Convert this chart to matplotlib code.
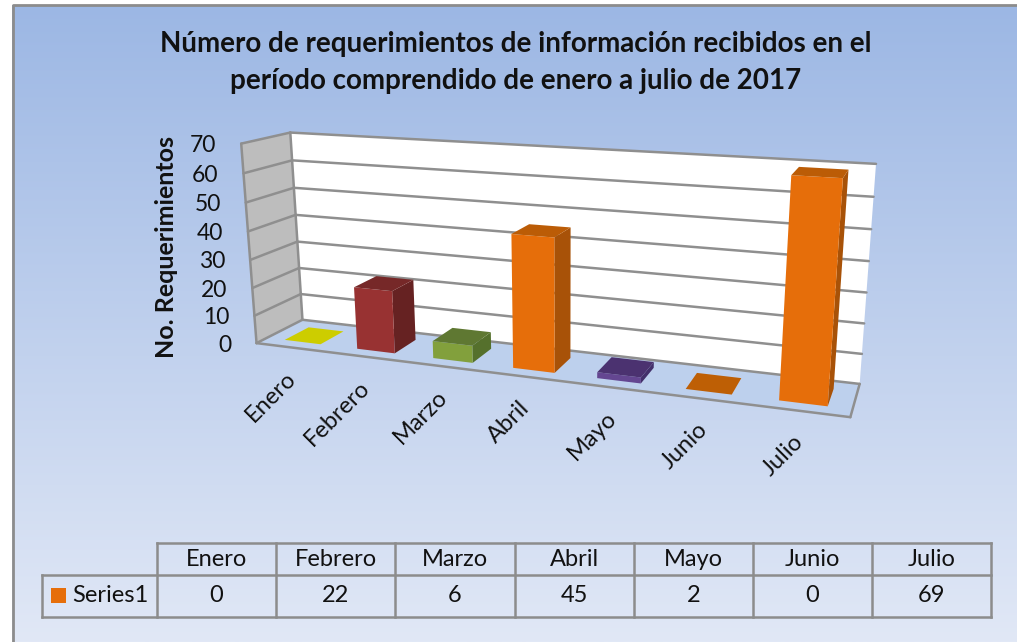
import numpy as np
import matplotlib
matplotlib.use("Agg")
import matplotlib.pyplot as plt
from matplotlib.patches import Polygon, Rectangle

# data
meses = ["Enero", "Febrero", "Marzo", "Abril", "Mayo", "Junio", "Julio"]
valores = [0, 22, 6, 45, 2, 0, 69]
y_ticks = [0, 10, 20, 30, 40, 50, 60, 70]
serie = "Series1"
titulo = "Número de requerimientos de información recibidos en el\nperíodo comprendido de enero a julio de 2017"
y_label = "No. Requerimientos"

# front, top and side colour of each bar
frente = ["#cdcd00", "#983232", "#82a03c", "#e66e0a", "#644691", "#be5f05", "#e66e0a"]
arriba = ["#cdcd00", "#762828", "#5f7832", "#bb5c06", "#4b3270", "#be5f05", "#bb5c06"]
lado = ["#cdcd00", "#662222", "#55702c", "#a85208", "#43306a", "#be5f05", "#a85208"]

plt.rcParams['font.family'] = ['Lato', 'DejaVu Sans']

# the 3d box: (category, depth, value) seen at these pixels of the figure
box_3d = [(0, 0, 0), (7, 0, 0), (0, 1, 0), (7, 1, 0), (0, 1, 70), (7, 1, 70), (0, 0, 70)]
box_px = [(257, 343), (850, 418), (302, 320), (860, 383), (290.5, 133), (876, 164), (241, 143)]


def fit_camera(pts3, pts2):
    # direct linear transform, p34 fixed to 1
    A, b = [], []
    for (x, y, z), (u, v) in zip(pts3, pts2):
        A.append([x, y, z, 1, 0, 0, 0, 0, -u * x, -u * y, -u * z])
        b.append(u)
        A.append([0, 0, 0, 0, x, y, z, 1, -v * x, -v * y, -v * z])
        b.append(v)
    p = np.linalg.lstsq(np.array(A, float), np.array(b, float), rcond=None)[0]
    return np.append(p, 1).reshape(3, 4)


CAM = fit_camera(box_3d, box_px)


def proj(x, y, z):
    h = CAM @ np.array([x, y, z, 1.0])
    return h[0] / h[2], h[1] / h[2]


def quad(ax, pts, color, ec=None, lw=0, z=2):
    ax.add_patch(Polygon([proj(*p) for p in pts], closed=True, fc=color,
                         ec=ec if ec else color, lw=lw, zorder=z))


def edge(ax, a, b, lw=1.8, color="#8f8f8f", z=2):
    pa, pb = proj(*a), proj(*b)
    ax.plot([pa[0], pb[0]], [pa[1], pb[1]], color=color, lw=lw, zorder=z,
            solid_capstyle="round")


fig = plt.figure(figsize=(10.17, 6.42), dpi=100)
ax = fig.add_axes([0, 0, 1, 1])
ax.set_xlim(0, 1017)
ax.set_ylim(642, 0)
ax.axis("off")

# background gradient and frame
grad = np.linspace(0, 1, 256).reshape(-1, 1, 1)
top_c = np.array([156, 183, 228]) / 255
bot_c = np.array([225, 232, 246]) / 255
img = top_c + (bot_c - top_c) * grad
ax.imshow(img, extent=(12, 1017, 642, 5), aspect="auto", zorder=0)
ax.set_xlim(0, 1017)
ax.set_ylim(642, 0)
ax.plot([12.5, 12.5, 1017], [642, 4.5, 4.5], color="#8c8c8c", lw=2, zorder=1)

# walls and floor
quad(ax, [(0, 0, 0), (0, 1, 0), (0, 1, 70), (0, 0, 70)], "#bdbdbd", z=1)
quad(ax, [(0, 1, 0), (7, 1, 0), (7, 1, 70), (0, 1, 70)], "#ffffff", z=1)
quad(ax, [(0, 0, 0), (7, 0, 0), (7, 1, 0), (0, 1, 0)], "#bdd0ed", z=1)

for t in y_ticks:
    edge(ax, (0, 0, t), (0, 1, t))
    edge(ax, (0, 1, t), (7, 1, t))
    px, py = proj(0, 0, t)
    ax.text(px - 25, py + 2, str(t), ha="right", va="center", fontsize=16.5, color="#111111", zorder=5)
edge(ax, (0, 0, 0), (7, 0, 0))
edge(ax, (7, 0, 0), (7, 1, 0))
edge(ax, (0, 0, 0), (0, 0, 70))
edge(ax, (0, 1, 0), (0, 1, 70))

# bars
ancho = 0.5
y0, y1 = 0.22, 0.75
for i, v in enumerate(valores):
    x0 = i + 0.5 - ancho / 2
    x1 = i + 0.5 + ancho / 2
    if v > 0:
        quad(ax, [(x1, y0, 0), (x1, y1, 0), (x1, y1, v), (x1, y0, v)], lado[i], z=3)
        quad(ax, [(x0, y0, 0), (x1, y0, 0), (x1, y0, v), (x0, y0, v)], frente[i], z=3)
    quad(ax, [(x0, y0, v), (x1, y0, v), (x1, y1, v), (x0, y1, v)], arriba[i], z=3)

    px, py = proj(i + 0.5, 0, 0)
    ax.text(px - 7.5, py + 20, meses[i], rotation=45, rotation_mode="anchor",
            ha="right", va="top", fontsize=17, color="#111111", zorder=5)

# titles
ax.text(516, 62.5, titulo, ha="center", va="center", fontsize=20, fontweight="bold",
        color="#111111", linespacing=1.57)
ax.text(167, 247, y_label, rotation=90, ha="center", va="center", fontsize=18,
        fontweight="bold", color="#111111")

# data table
tab_x = 157
col = 119.2
top, mid, bot = 543, 575, 617
leg_x = 42
for i in range(len(meses) + 1):
    xx = tab_x + i * col
    ax.plot([xx, xx], [top, bot], color="#8c8c8c", lw=1.8, zorder=4)
ax.plot([tab_x, tab_x + 7 * col], [top, top], color="#8c8c8c", lw=1.8, zorder=4)
ax.plot([leg_x, tab_x + 7 * col], [mid, mid], color="#8c8c8c", lw=1.8, zorder=4)
ax.plot([leg_x, tab_x + 7 * col], [bot, bot], color="#8c8c8c", lw=1.8, zorder=4)
ax.plot([leg_x, leg_x], [mid, bot], color="#8c8c8c", lw=1.8, zorder=4)
for i, (m, v) in enumerate(zip(meses, valores)):
    xc = tab_x + (i + 0.5) * col
    ax.text(xc, (top + mid) / 2 + 0.5, m, ha="center", va="center", fontsize=17, color="#111111", zorder=5)
    ax.text(xc, (mid + bot) / 2, str(v), ha="center", va="center", fontsize=17, color="#111111", zorder=5)
ax.add_patch(Rectangle((51, 588), 15, 15, fc="#e66e0a", ec="none", zorder=5))
ax.text(72, 595.5, serie, ha="left", va="center", fontsize=17, color="#111111", zorder=5)

fig.savefig("out.png", dpi=100)
